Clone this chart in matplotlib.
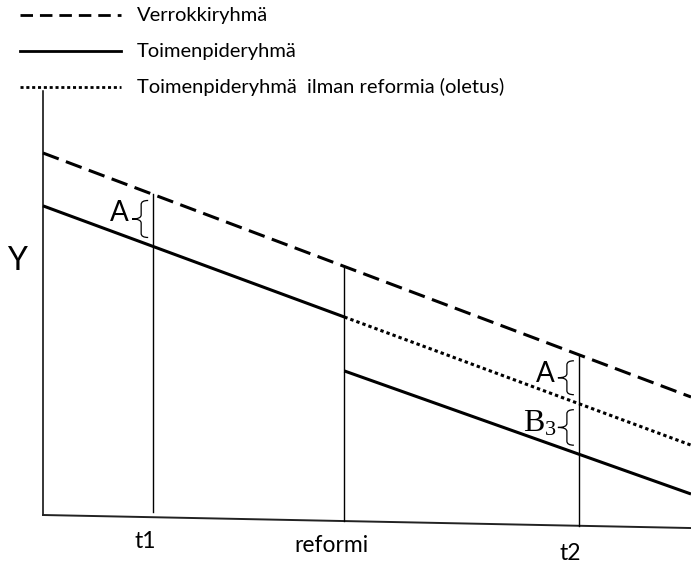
import numpy as np
import matplotlib.pyplot as plt
from matplotlib.path import Path
from matplotlib.patches import PathPatch

# schematic values (arbitrary units)
x_span = [0.0, 10.0]
t1, reform, t2 = 1.7, 4.65, 8.27
control = [10.0, 3.26]              # Verrokkiryhmä at x = 0 and 10
treat_pre = [8.54, 5.47]            # Toimenpideryhmä at x = 0 and reform
treat_cf = [5.47, 1.93]             # ilman reformia, reform -> 10
treat_post = [3.98, 0.58]           # Toimenpideryhmä after reform, reform -> 10
baseline = [0.0, -0.36]             # sloping x axis
y_top = 11.7

legend_labels = ["Verrokkiryhmä", "Toimenpideryhmä",
                 "Toimenpideryhmä  ilman reformia (oletus)"]
tick_labels = ["t1", "reformi", "t2"]

W, H = 691, 564
fig = plt.figure(figsize=(W / 100, H / 100), dpi=100)
ax = fig.add_axes([0, 0, 1, 1])
ax.set_xlim(-43 / 64.8, 648 / 64.8)
ax.set_ylim(-49 / 36.2, 515 / 36.2)
ax.axis("off")

lw = 2.2
dash = (5.5, 2.5)
dot = (1.1, 1.0)


def at(xs, ys, x):
    return np.interp(x, xs, ys)


# axes drawn by hand
ax.plot([0, 0], [baseline[0], y_top], color="black", lw=1.1)
ax.plot(x_span, baseline, color="#222222", lw=1.4)

# verticals from the control line down to the axis
for xv, stop in [(t1, 0.15), (reform, 0.0), (t2, 0.0)]:
    ax.plot([xv, xv], [at(x_span, control, xv), at(x_span, baseline, xv) + stop],
            color="black", lw=1.0)

ax.plot(x_span, control, color="black", lw=lw, linestyle=(0, dash))
ax.plot([0, reform], treat_pre, color="black", lw=lw, solid_capstyle="butt")
ax.plot([reform, 10], treat_cf, color="black", lw=lw, linestyle=(0, dot),
        dash_capstyle="butt")
ax.plot([reform, 10], treat_post, color="black", lw=lw, solid_capstyle="butt")


def brace(xv, y_hi, y_lo):
    # left pointing curly brace, in pixels, just left of a vertical line
    xs, top = ax.transData.transform((xv, y_hi))
    _, bot = ax.transData.transform((xv, y_lo))
    xs -= 12
    top -= 6
    bot += 9
    mid = (top + bot) / 2
    w, h, r = 9, 7, 4
    verts = [(xs + h, top), (xs, top), (xs, top - r),
             (xs, mid + r), (xs, mid), (xs - w, mid),
             (xs, mid), (xs, mid - r),
             (xs, bot + r), (xs, bot), (xs + h, bot)]
    codes = [Path.MOVETO, Path.CURVE3, Path.CURVE3,
             Path.LINETO, Path.CURVE3, Path.CURVE3,
             Path.CURVE3, Path.CURVE3,
             Path.LINETO, Path.CURVE3, Path.CURVE3]
    fig.patches.append(PathPatch(Path(verts, codes), fill=False, lw=0.9,
                                 edgecolor="black", transform=None))
    return xs - w, mid


font = "Lato"
bx, by = brace(t1, at(x_span, control, t1), at([0, reform], treat_pre, t1))
fig.text(bx - 3, by + 6, "A", ha="right", va="center", fontsize=20,
         family=font, transform=None)
bx, by = brace(t2, at(x_span, control, t2), at([reform, 10], treat_cf, t2))
fig.text(bx - 3, by + 4, "A", ha="right", va="center", fontsize=20,
         family=font, transform=None)
bx, by = brace(t2, at([reform, 10], treat_cf, t2), at([reform, 10], treat_post, t2))
fig.text(bx - 1, by + 4, r"$\mathregular{B_3}$", ha="right", va="center",
         fontsize=23, family="Liberation Serif", transform=None)

fig.text(17, H - 261, "Y", ha="center", va="center", fontsize=23,
         family=font, transform=None)

for xv, lab, dx, dy in zip([t1, reform, t2], tick_labels, [-8, -13, -9], [0, 0, 4]):
    px, py = ax.transData.transform((xv, at(x_span, baseline, xv)))
    fig.text(px + dx, py - 24 - dy, lab, ha="center", va="center",
             fontsize=16.5, family=font, transform=None)

# legend drawn by hand
styles = [dict(linestyle=(0, (4.5, 2.5))), dict(), dict(linestyle=(0, dot))]
for i, (lab, st) in enumerate(zip(legend_labels, styles)):
    y = H - (15 + 36 * i)
    fig.lines.append(plt.Line2D([20, 121], [y, y], color="black", lw=2.0,
                                transform=None, dash_capstyle="butt", **st))
    fig.text(137, y, lab, ha="left", va="center", fontsize=14.5, family=font,
             transform=None)

fig.savefig("out.png", dpi=100)
